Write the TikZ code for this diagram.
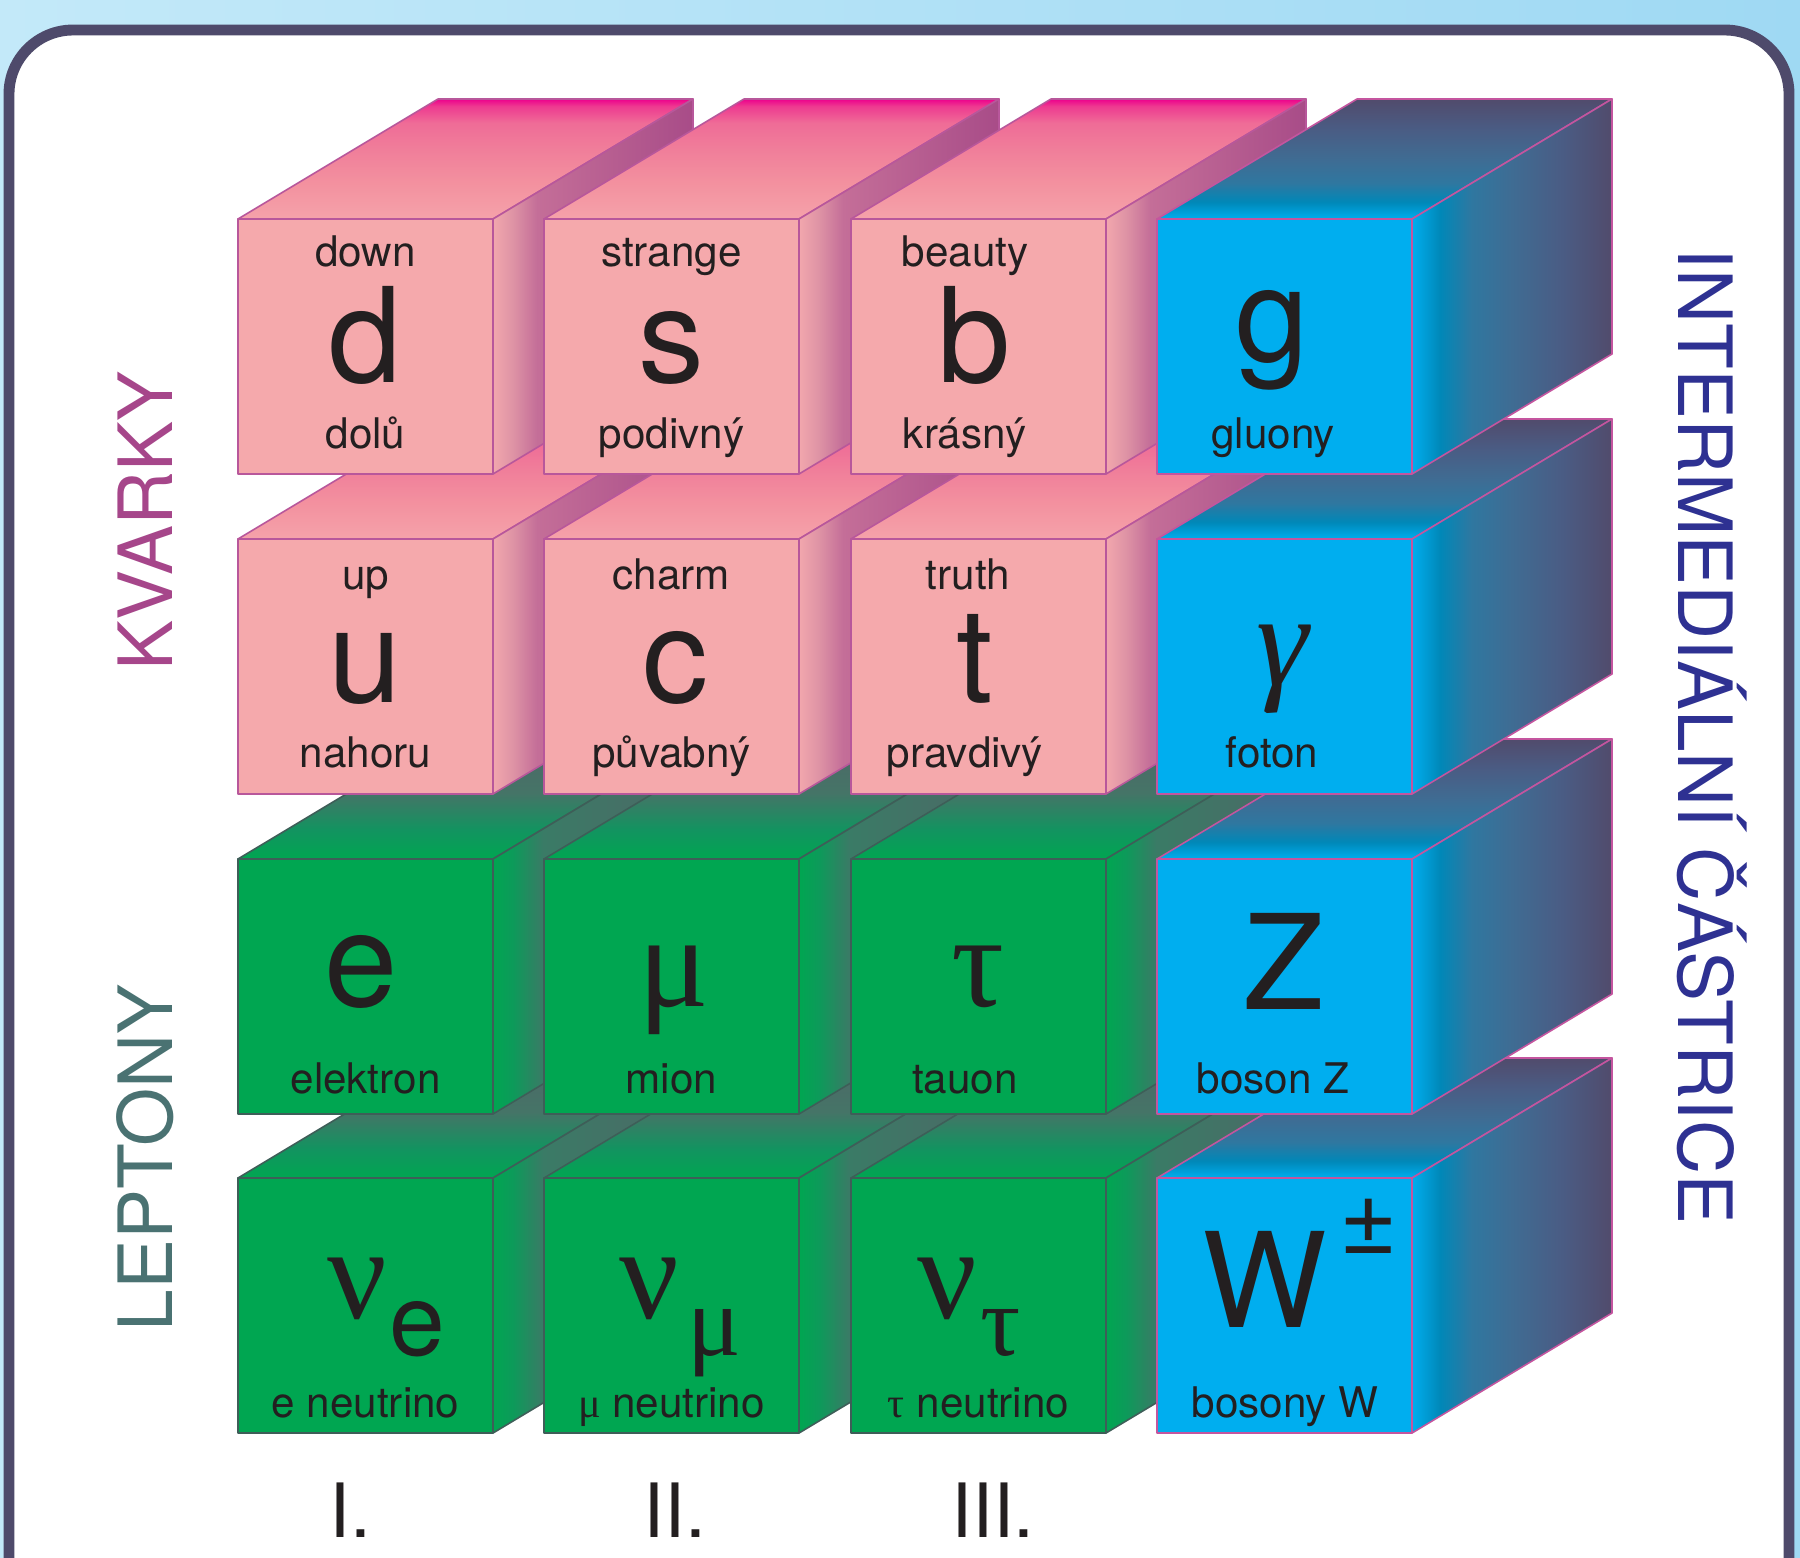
\documentclass[tikz,border=0pt]{standalone}
\usepackage{fontspec}
\setmainfont{TeX Gyre Heros}
\newfontfamily\grk{Liberation Serif}

\definecolor{skyLeft}{HTML}{C3E9F9}
\definecolor{skyRight}{HTML}{9FD9F3}
\definecolor{panelInk}{HTML}{4E4A6B}
\definecolor{textInk}{HTML}{231F20}
\definecolor{quarkInk}{HTML}{A6468A}
\definecolor{leptonInk}{HTML}{4A7272}
\definecolor{bosonInk}{HTML}{2E3192}
% pink (quarks)
\definecolor{pinkFront}{HTML}{F5A9AC}
\definecolor{pinkEdge}{HTML}{B8579B}
\definecolor{pinkT0}{HTML}{F5A2AA}
\definecolor{pinkT1}{HTML}{F3919F}
\definecolor{pinkT2}{HTML}{F07E9A}
\definecolor{pinkT3}{HTML}{EF6C97}
\definecolor{pinkT4}{HTML}{EE3A90}
\definecolor{pinkT5}{HTML}{EC008C}
\definecolor{pinkS0}{HTML}{F2A7AD}
\definecolor{pinkS1}{HTML}{DE93A5}
\definecolor{pinkS2}{HTML}{C46E98}
\definecolor{pinkS3}{HTML}{A84C88}
% green (leptons)
\definecolor{greenFront}{HTML}{00A651}
\definecolor{greenEdge}{HTML}{3E5E58}
\definecolor{greenT1}{HTML}{139360}
\definecolor{greenT2}{HTML}{457467}
\definecolor{greenT3}{HTML}{4E6766}
\definecolor{greenS1}{HTML}{0D9A5A}
\definecolor{greenS2}{HTML}{3A7B66}
% blue (bosons)
\definecolor{blueFront}{HTML}{00AEEF}
\definecolor{blueEdge}{HTML}{C4559F}
\definecolor{blueB1}{HTML}{0088B8}
\definecolor{blueB2}{HTML}{2F77A0}
\definecolor{blueB3}{HTML}{3F6C93}
\definecolor{blueB4}{HTML}{4A5C84}
\definecolor{blueB5}{HTML}{514B6C}

% face shadings: path box spans 25bp..75bp
\pgfdeclareverticalshading{shPinkTop}{100bp}{color(0bp)=(pinkT0); color(25bp)=(pinkT0);
  color(40bp)=(pinkT1); color(54bp)=(pinkT2); color(65bp)=(pinkT3); color(72bp)=(pinkT4);
  color(75bp)=(pinkT5); color(100bp)=(pinkT5)}
\pgfdeclarehorizontalshading{shPinkSide}{100bp}{color(0bp)=(pinkS0); color(25bp)=(pinkS0);
  color(30bp)=(pinkS1); color(36bp)=(pinkS2); color(75bp)=(pinkS3); color(100bp)=(pinkS3)}
\pgfdeclareverticalshading{shGreenTop}{100bp}{color(0bp)=(greenFront); color(25bp)=(greenFront);
  color(37.5bp)=(greenT1); color(52.5bp)=(greenT2); color(75bp)=(greenT3); color(100bp)=(greenT3)}
\pgfdeclarehorizontalshading{shGreenSide}{100bp}{color(0bp)=(greenFront); color(25bp)=(greenFront);
  color(30bp)=(greenS1); color(37.5bp)=(greenS2); color(75bp)=(greenT3); color(100bp)=(greenT3)}
\pgfdeclareverticalshading{shBlueTop}{100bp}{color(0bp)=(blueFront); color(25bp)=(blueFront);
  color(32bp)=(blueB1); color(40bp)=(blueB2); color(50bp)=(blueB3); color(62.5bp)=(blueB4);
  color(75bp)=(blueB5); color(100bp)=(blueB5)}
\pgfdeclarehorizontalshading{shBlueSide}{100bp}{color(0bp)=(blueFront); color(25bp)=(blueFront);
  color(32bp)=(blueB1); color(40bp)=(blueB2); color(50bp)=(blueB3); color(62.5bp)=(blueB4);
  color(75bp)=(blueB5); color(100bp)=(blueB5)}

% #1,#2 = top-left corner of the front face, #3 = pink / green / blue
\newcommand{\partcube}[3]{%
  \path[#3top] (#1,#2) -- ++(200,-120) -- ++(255,0) -- ++(-200,120) -- cycle;
  \path[#3side] ({#1+255},#2) -- ++(200,-120) -- ++(0,255) -- ++(-200,120) -- cycle;
  \path[#3front] (#1,#2) rectangle ++(255,255);
}

\begin{document}
\begin{tikzpicture}[
  x=0.01cm, y=-0.01cm,
  every node/.style={inner sep=0pt,text=textInk},
  panel/.style={draw=panelInk,line width=3.1pt,fill=white,rounded corners=0.64cm},
  edge/.style={line width=0.45pt,line join=round},
  pinktop/.style={edge,shade,shading=shPinkTop,draw=pinkEdge},
  pinkside/.style={edge,shade,shading=shPinkSide,draw=pinkEdge},
  pinkfront/.style={edge,fill=pinkFront,draw=pinkEdge},
  greentop/.style={edge,shade,shading=shGreenTop,draw=greenEdge},
  greenside/.style={edge,shade,shading=shGreenSide,draw=greenEdge},
  greenfront/.style={edge,fill=greenFront,draw=greenEdge},
  bluetop/.style={edge,shade,shading=shBlueTop,draw=blueEdge},
  blueside/.style={edge,shade,shading=shBlueSide,draw=blueEdge},
  bluefront/.style={edge,fill=blueFront,draw=blueEdge},
  small/.style={font=\fontsize{12}{14}\selectfont,anchor=base},
  symb/.style={font=\fontsize{37.5}{40}\selectfont,anchor=base},
  grsymb/.style={font=\grk\fontsize{37.5}{40}\selectfont,anchor=base},
  subsym/.style={font=\fontsize{28.5}{30}\selectfont,anchor=base},
  grsubsym/.style={font=\grk\fontsize{28.5}{30}\selectfont,anchor=base},
  sidelbl/.style={font=\fontsize{21.3}{24}\selectfont,anchor=base}
]
  \clip (0,0) rectangle (1800,1557);
  \shade[left color=skyLeft,right color=skyRight] (0,0) rectangle (1800,1557);
  \draw[panel] (9,30) rectangle (1789,1700);

  % cubes, lowest row first
  \partcube{238}{1178}{green} \partcube{544}{1178}{green} \partcube{851}{1178}{green} \partcube{1157}{1178}{blue}
  \partcube{238}{859}{green}  \partcube{544}{859}{green}  \partcube{851}{859}{green}  \partcube{1157}{859}{blue}
  \partcube{238}{539}{pink}   \partcube{544}{539}{pink}   \partcube{851}{539}{pink}   \partcube{1157}{539}{blue}
  \partcube{238}{219}{pink}   \partcube{544}{219}{pink}   \partcube{851}{219}{pink}   \partcube{1157}{219}{blue}

  % quarks
  \node[small] (dTop) at (365.5,266) {down};
  \node[symb]  (dSym) at (365.5,382) {d};
  \node[small] (dBot) at (365.5,448) {dolů};
  \node[small] (sTop) at (671.5,266) {strange};
  \node[symb]  (sSym) at (671.5,382) {s};
  \node[small] (sBot) at (671.5,448) {podivný};
  \node[small] (bTop) at (965,266) {beauty};
  \node[symb]  (bSym) at (974,382) {b};
  \node[small] (bBot) at (965,448) {krásný};
  \node[small] (uTop) at (365.5,589) {up};
  \node[symb]  (uSym) at (365.5,702) {u};
  \node[small] (uBot) at (365.5,767) {nahoru};
  \node[small] (cTop) at (671.5,589) {charm};
  \node[symb]  (cSym) at (675,702) {c};
  \node[small] (cBot) at (671.5,767) {půvabný};
  \node[small] (tTop) at (968,589) {truth};
  \node[symb]  (tSym) at (975,702) {t};
  \node[small] (tBot) at (965,767) {pravdivý};

  % leptons
  \node[symb]   (eSym)   at (361,1006) {e};
  \node[small]  (eBot)   at (365.5,1093) {elektron};
  \node[grsymb] (muSym)  at (674,1006) {μ};
  \node[small]  (muBot)  at (671.5,1093) {mion};
  \node[grsymb] (tauSym) at (978,1006) {τ};
  \node[small]  (tauBot) at (965,1093) {tauon};
  \node[grsymb]   (nueSym)  at (357,1318) {ν};
  \node[subsym]   (nueSub)  at (417,1355) {e};
  \node[small]    (nueBot)  at (365.5,1417) {e neutrino};
  \node[grsymb]   (numuSym) at (649.5,1318) {ν};
  \node[grsubsym] (numuSub) at (714,1355) {μ};
  \node[small]    (numuBot) at (671.5,1417) {{\grk μ} neutrino};
  \node[grsymb]   (nutSym)  at (947,1318) {ν};
  \node[grsubsym] (nutSub)  at (1001,1355) {τ};
  \node[small]    (nutBot)  at (978.5,1417) {{\grk τ} neutrino};

  % bosons
  \node[symb]   (gSym)   at (1272,361) {g};
  \node[small]  (gBot)   at (1273,448) {gluony};
  \node[grsymb] (gamSym) at (1282,685) {\itshape γ};
  \node[small]  (gamBot) at (1272,767) {foton};
  \node[symb]   (zSym)   at (1284,1009) {Z};
  \node[small]  (zBot)   at (1273,1093) {boson Z};
  \node[symb]   (wSym)   at (1264.5,1327) {W};
  \node[subsym] (wSup)   at (1369,1253) {±};
  \node[small]  (wBot)   at (1285,1417) {bosony W};

  % generations
  \node[sidelbl] (genI)   at (350,1537) {I.};
  \node[sidelbl] (genII)  at (675,1537) {II.};
  \node[sidelbl] (genIII) at (993,1537) {III.};

  % group labels
  \node[sidelbl,rotate=90,text=quarkInk]   (kvarky)  at (172,521) {KVARKY};
  \node[sidelbl,rotate=90,text=leptonInk]  (leptony) at (172,1158) {LEPTONY};
  \node[sidelbl,rotate=-90,text=bosonInk]  (castice) at (1678,736.5) {INTERMEDIÁLNÍ ČÁSTRICE};
\end{tikzpicture}
\end{document}
